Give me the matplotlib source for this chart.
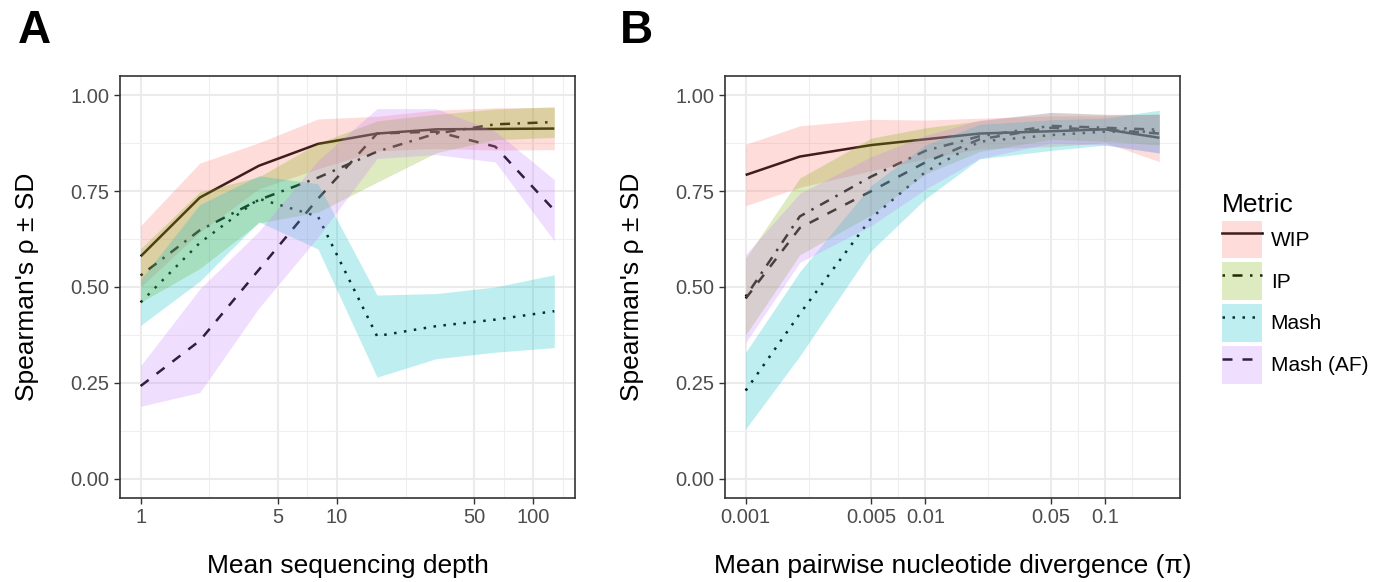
import numpy as np
import matplotlib
matplotlib.use("Agg")
import matplotlib.pyplot as plt
from matplotlib.lines import Line2D
from matplotlib.patches import Patch
from matplotlib.legend_handler import HandlerTuple
from matplotlib.ticker import FixedLocator, NullFormatter

plt.rcParams['font.family'] = ['Liberation Sans', 'DejaVu Sans']

# panel A: mean sequencing depth
depth = [1, 2, 4, 8, 16, 32, 64, 128]
wip_a = [0.58, 0.733, 0.816, 0.873, 0.90, 0.911, 0.912, 0.913]
wip_a_sd = [0.08, 0.09, 0.06, 0.065, 0.045, 0.05, 0.055, 0.055]
ip_a = [0.53, 0.648, 0.727, 0.785, 0.853, 0.90, 0.924, 0.93]
ip_a_sd = [0.07, 0.10, 0.06, 0.09, 0.08, 0.05, 0.04, 0.04]
mash_a = [0.46, 0.615, 0.73, 0.684, 0.372, 0.398, 0.415, 0.437]
mash_a_sd = [0.06, 0.10, 0.06, 0.085, 0.107, 0.085, 0.085, 0.095]
af_a = [0.242, 0.36, 0.545, 0.73, 0.90, 0.905, 0.866, 0.70]
af_a_sd = [0.053, 0.135, 0.10, 0.10, 0.065, 0.06, 0.04, 0.08]

# panel B: mean pairwise nucleotide divergence
divergence = [0.001, 0.002, 0.005, 0.01, 0.02, 0.05, 0.1, 0.2]
wip_b = [0.792, 0.84, 0.87, 0.885, 0.90, 0.906, 0.911, 0.889]
wip_b_sd = [0.08, 0.08, 0.067, 0.05, 0.04, 0.04, 0.035, 0.062]
ip_b = [0.475, 0.684, 0.788, 0.855, 0.893, 0.92, 0.915, 0.91]
ip_b_sd = [0.10, 0.10, 0.10, 0.06, 0.04, 0.035, 0.035, 0.04]
mash_b = [0.23, 0.43, 0.68, 0.80, 0.879, 0.896, 0.905, 0.905]
mash_b_sd = [0.10, 0.11, 0.085, 0.07, 0.045, 0.04, 0.035, 0.056]
af_b = [0.47, 0.654, 0.75, 0.825, 0.885, 0.915, 0.91, 0.90]
af_b_sd = [0.115, 0.09, 0.09, 0.07, 0.05, 0.04, 0.04, 0.05]

metrics = ['WIP', 'IP', 'Mash', 'Mash (AF)']
colors = ['#F8766D', '#7CAE00', '#00BFC4', '#C77CFF']
linestyles = ['-', (0, (1, 3, 4, 3)), (0, (1, 3)), (0, (4, 4))]

ticks_a = [1, 5, 10, 50, 100]
ticklabels_a = ['1', '5', '10', '50', '100']
ticks_b = [0.001, 0.005, 0.01, 0.05, 0.1]
ticklabels_b = ['0.001', '0.005', '0.01', '0.05', '0.1']
yticks = [0, 0.25, 0.5, 0.75, 1.0]
yticklabels = ['0.00', '0.25', '0.50', '0.75', '1.00']

LW = 1.8
ALPHA = 0.25


def minor_breaks(majors, lo, hi):
    # ggplot-style minor breaks: geometric midpoints between the majors
    lm = np.log10(majors)
    step = np.diff(lm)
    ext = np.concatenate([[lm[0] - step[0]], lm, [lm[-1] + step[-1]]])
    mids = 10 ** ((ext[:-1] + ext[1:]) / 2)
    return [m for m in mids if lo <= m <= hi]


def draw_panel(ax, x, series, xticks, xticklabels, xlabel):
    for (mean, sd), col, ls in zip(series, colors, linestyles):
        mean = np.array(mean)
        sd = np.array(sd)
        ax.plot(x, mean, color='black', lw=LW, linestyle=ls, zorder=2,
                solid_capstyle='butt', dash_capstyle='butt')
        ax.fill_between(x, mean - sd, mean + sd, color=col, alpha=ALPHA,
                        lw=0, zorder=3)

    ax.set_xscale('log')
    lo, hi = np.log10(x[0]), np.log10(x[-1])
    pad = 0.05 * (hi - lo)
    ax.set_xlim(10 ** (lo - pad), 10 ** (hi + pad))
    ax.set_ylim(-0.05, 1.05)

    ax.xaxis.set_major_locator(FixedLocator(xticks))
    ax.set_xticklabels(xticklabels)
    ax.xaxis.set_minor_locator(FixedLocator(minor_breaks(xticks, *ax.get_xlim())))
    ax.xaxis.set_minor_formatter(NullFormatter())
    ax.set_yticks(yticks)
    ax.set_yticklabels(yticklabels)
    ax.set_yticks([0.125, 0.375, 0.625, 0.875], minor=True)

    # theme_bw look
    ax.set_axisbelow(True)
    ax.grid(which='major', color='#EBEBEB', lw=1.5)
    ax.grid(which='minor', color='#EFEFEF', lw=0.8)
    for s in ax.spines.values():
        s.set_color('#333333')
        s.set_linewidth(1.2)
    ax.tick_params(which='major', length=4.5, width=1.0, color='#333333',
                   labelsize=14.5, labelcolor='#4D4D4D', pad=3)
    ax.tick_params(which='minor', length=0)

    ax.set_xlabel(xlabel, fontsize=19, va='center')
    ax.xaxis.set_label_coords(0.5, -0.16)
    ax.set_ylabel("Spearman's ρ ± SD", fontsize=19, va='center')
    ax.yaxis.set_label_coords(-0.205, 0.5)


fig = plt.figure(figsize=(13.84, 5.82), dpi=100)
ax_a = fig.add_axes([120 / 1384, 84 / 582, 455 / 1384, 422 / 582])
ax_b = fig.add_axes([725 / 1384, 84 / 582, 455 / 1384, 422 / 582])

draw_panel(ax_a, depth,
           [(wip_a, wip_a_sd), (ip_a, ip_a_sd), (mash_a, mash_a_sd), (af_a, af_a_sd)],
           ticks_a, ticklabels_a, 'Mean sequencing depth')
draw_panel(ax_b, divergence,
           [(wip_b, wip_b_sd), (ip_b, ip_b_sd), (mash_b, mash_b_sd), (af_b, af_b_sd)],
           ticks_b, ticklabels_b, 'Mean pairwise nucleotide divergence (π)')

fig.text(18 / 1384, 1 - 43 / 582, 'A', fontsize=33, fontweight='bold', va='baseline')
fig.text(620 / 1384, 1 - 43 / 582, 'B', fontsize=33, fontweight='bold', va='baseline')

# legend: fill key drawn over the line, like the ggplot key
handles = []
for col, ls in zip(colors, linestyles):
    handles.append((Line2D([], [], color='black', lw=LW, linestyle=ls),
                    Patch(facecolor=col, alpha=ALPHA, lw=0)))
leg = fig.legend(handles, metrics, title='Metric', loc='center left',
                 bbox_to_anchor=(1203 / 1384, 0.505), frameon=False,
                 handler_map={tuple: HandlerTuple(ndivide=1, pad=0)},
                 fontsize=15, title_fontsize=19, handlelength=1.95,
                 handleheight=2.4, labelspacing=0.2, handletextpad=0.4,
                 alignment='left')

fig.savefig('out.png', dpi=100)
